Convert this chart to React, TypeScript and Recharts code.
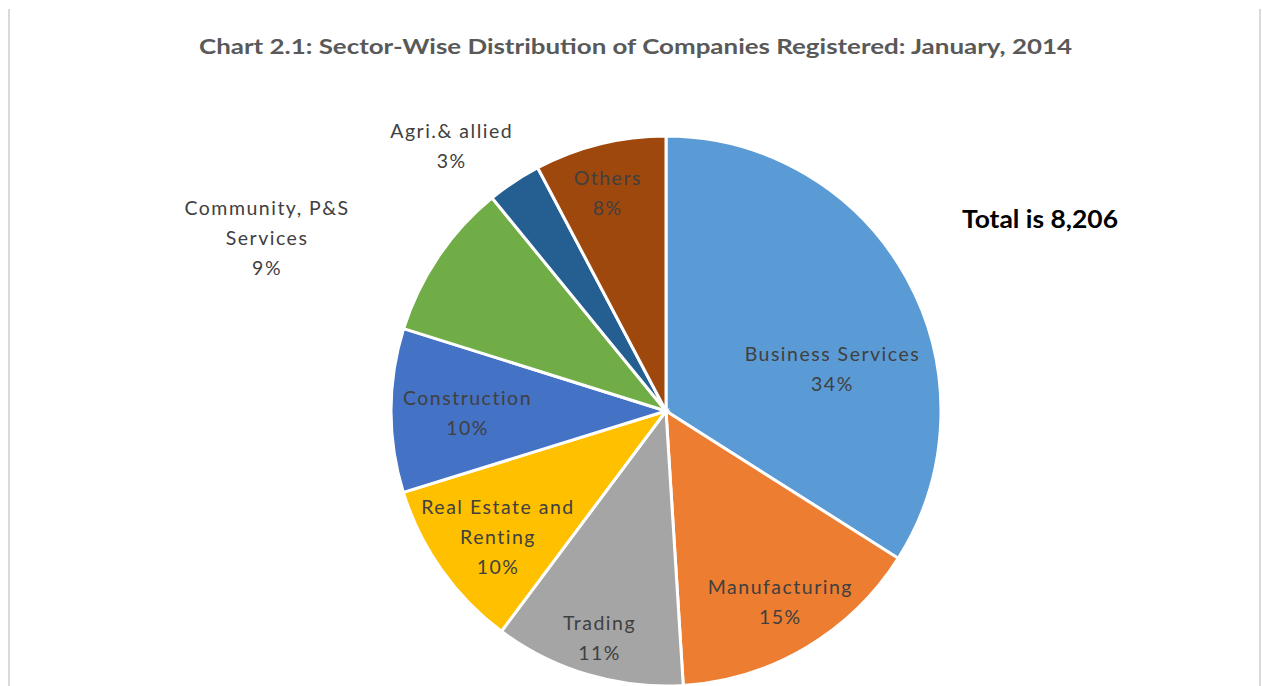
import React from "react";
import { PieChart, Pie, Cell } from "recharts";

const categories = [
  "Business Services",
  "Manufacturing",
  "Trading",
  "Real Estate and Renting",
  "Construction",
  "Community, P&S Services",
  "Agri.& allied",
  "Others",
];
const companies = [2790, 1231, 920, 821, 790, 760, 260, 634];
const labelLines = [
  ["Business Services"],
  ["Manufacturing"],
  ["Trading"],
  ["Real Estate and", "Renting"],
  ["Construction"],
  ["Community, P&S", "Services"],
  ["Agri.& allied"],
  ["Others"],
];
const colors = ["#5B9BD5", "#ED7D31", "#A5A5A5", "#FFC000", "#4472C4", "#70AD47", "#255E91", "#9E480E"];
const title = "Chart 2.1: Sector-Wise Distribution of Companies Registered: January, 2014";
const totalText = "Total is 8,206";

// label placement style: radius factor and pixel nudges
const labelStyle = [
  { f: 0.62, dx: 17, dy: 39 },
  { f: 0.81, dx: 1, dy: -2 },
  { f: 0.86, dx: 1, dy: -1 },
  { f: 0.77, dx: 5, dy: 3 },
  { f: 0.74, dx: 5, dy: 1 },
  { f: 1.55, dx: -46, dy: 65 },
  { f: 1.24, dx: -26, dy: 18 },
  { f: 0.82, dx: -4, dy: 0 },
];

const total = companies.reduce((a, b) => a + b, 0);
const data = categories.map((name, i) => ({ name, value: companies[i] }));
const RADIAN = Math.PI / 180;

const renderLabel = (props: any) => {
  const { cx, cy, midAngle, outerRadius, index, value } = props;
  const st = labelStyle[index];
  const r = outerRadius * st.f;
  const x = cx + r * Math.cos(-midAngle * RADIAN) + st.dx;
  const y = cy + r * Math.sin(-midAngle * RADIAN) + st.dy;
  const lines = [...labelLines[index], `${Math.round((value / total) * 100)}%`];
  const lh = 30;
  const y0 = y - ((lines.length - 1) * lh) / 2;
  return (
    <text
      key={`lbl-${index}`}
      x={x}
      y={y0}
      textAnchor="middle"
      dominantBaseline="central"
      fill="#404040"
      fontSize={19.5}
      fontFamily="Lato, 'Open Sans', sans-serif"
      letterSpacing={1.5}
    >
      {lines.map((ln, k) => (
        <tspan key={k} x={x} dy={k === 0 ? 0 : lh}>
          {ln}
        </tspan>
      ))}
    </text>
  );
};

export default function App() {
  return (
    <div style={{ position: "absolute", left: 0, top: 0, width: 1262, height: 686, background: "#fff" }}>
      <svg width={1262} height={686} style={{ position: "absolute", left: 0, top: 0 }}>
        <line x1={9} y1={9} x2={9} y2={686} stroke="#D9D9D9" strokeWidth={2} />
        <line x1={1260} y1={9} x2={1260} y2={686} stroke="#D9D9D9" strokeWidth={2} />
        <text
          x={199}
          y={54}
          fill="#595959"
          fontSize={21}
          fontWeight="bold"
          fontFamily="Lato, 'Open Sans', sans-serif"
          textLength={873}
          lengthAdjust="spacingAndGlyphs"
        >
          {title}
        </text>
        <text
          x={962}
          y={228}
          fill="#000"
          fontSize={25}
          fontWeight="bold"
          fontFamily="Lato, 'Open Sans', sans-serif"
          textLength={156}
          lengthAdjust="spacingAndGlyphs"
        >
          {totalText}
        </text>
      </svg>
      <div style={{ position: "absolute", left: 0, top: 0 }}>
        <PieChart width={1262} height={686} margin={{ top: 0, right: 0, bottom: 0, left: 0 }}>
          <Pie
            data={data}
            dataKey="value"
            nameKey="name"
            cx={666}
            cy={411}
            outerRadius={275}
            startAngle={90}
            endAngle={-270}
            stroke="#FFFFFF"
            strokeWidth={3}
            label={renderLabel}
            labelLine={false}
            isAnimationActive={false}
          >
            {data.map((d, i) => (
              <Cell key={d.name} fill={colors[i]} />
            ))}
          </Pie>
        </PieChart>
      </div>
    </div>
  );
}
